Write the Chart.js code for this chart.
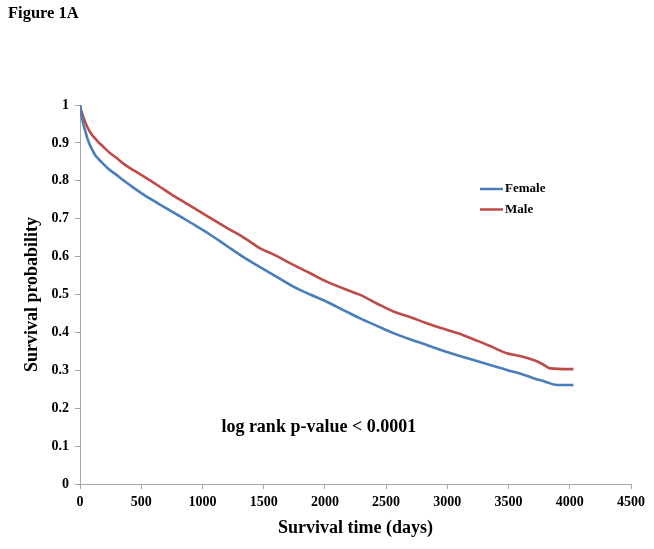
<!DOCTYPE html>
<html>
<head>
<meta charset="utf-8">
<script src="https://cdn.jsdelivr.net/npm/chart.js@4"></script>
<style>
html,body{margin:0;padding:0;background:#fff;}
#wrap{position:relative;width:654px;height:549px;}
canvas{display:block;}
</style>
</head>
<body>
<div id="wrap"><canvas id="c" width="654" height="549"></canvas></div>
<script>
const figureLabel = "Figure 1A";
const xTitle = "Survival time (days)";
const yTitle = "Survival probability";
const annotationText = "log rank p-value < 0.0001";
const seriesNames = ["Female", "Male"];

const femaleDays = [0, 5, 10, 20, 30, 41, 60, 80, 100, 123, 150, 180, 231, 300, 368, 436, 504, 640, 776, 912, 1049, 1200, 1348, 1471, 1600, 1743, 1880, 2015, 2150, 2288, 2420, 2560, 2700, 2832, 2941, 3080, 3213, 3350, 3486, 3600, 3704, 3800, 3880, 4030];
const femaleSurv = [1.0, 0.985, 0.975, 0.96, 0.946, 0.934, 0.912, 0.895, 0.882, 0.868, 0.858, 0.848, 0.832, 0.815, 0.798, 0.782, 0.767, 0.740, 0.714, 0.688, 0.661, 0.628, 0.596, 0.572, 0.548, 0.521, 0.500, 0.481, 0.459, 0.437, 0.418, 0.398, 0.381, 0.367, 0.354, 0.340, 0.327, 0.314, 0.301, 0.291, 0.279, 0.270, 0.262, 0.261];

const maleDays = [0, 5, 10, 20, 30, 41, 60, 80, 100, 123, 150, 180, 231, 300, 368, 436, 504, 640, 776, 912, 1049, 1200, 1348, 1471, 1593, 1743, 1880, 2015, 2150, 2288, 2420, 2560, 2700, 2832, 2941, 3105, 3213, 3350, 3486, 3600, 3704, 3780, 3840, 4030];
const maleSurv = [1.0, 0.992, 0.985, 0.975, 0.965, 0.956, 0.942, 0.930, 0.920, 0.912, 0.902, 0.893, 0.877, 0.860, 0.842, 0.828, 0.815, 0.787, 0.758, 0.732, 0.705, 0.676, 0.648, 0.622, 0.604, 0.578, 0.556, 0.534, 0.516, 0.499, 0.477, 0.455, 0.440, 0.424, 0.412, 0.396, 0.382, 0.364, 0.345, 0.337, 0.327, 0.316, 0.305, 0.303];

const xTicks = [0, 500, 1000, 1500, 2000, 2500, 3000, 3500, 4000, 4500];
const yTicks = [0, 0.1, 0.2, 0.3, 0.4, 0.5, 0.6, 0.7, 0.8, 0.9, 1];

const annotationPos = {x: 1950, y: 0.15};

const FONT = "'Liberation Serif', 'Times New Roman', serif";
const AXIS_COLOR = "#a6a6a6";

function toPoints(xs, ys){ return xs.map((x,i)=>({x:x, y:ys[i]})); }

const extras = {
  id: 'extras',
  afterDraw(chart){
    const ctx = chart.ctx;
    ctx.save();
    ctx.fillStyle = '#000';
    ctx.font = "bold 16.5px " + FONT;
    ctx.textAlign = 'left';
    ctx.textBaseline = 'middle';
    ctx.fillText(figureLabel, 8, 14);
    const xs = chart.scales.x, ys = chart.scales.y;
    ctx.font = "bold 18px " + FONT;
    ctx.textAlign = 'center';
    ctx.fillText(annotationText, xs.getPixelForValue(annotationPos.x), ys.getPixelForValue(annotationPos.y));
    ctx.font = "bold 13px " + FONT;
    ctx.textAlign = 'left';
    chart.data.datasets.forEach((ds, i) => {
      const y = 189 + i * 20.5;
      ctx.strokeStyle = ds.borderColor;
      ctx.lineWidth = 2.5;
      ctx.beginPath();
      ctx.moveTo(480, y);
      ctx.lineTo(503, y);
      ctx.stroke();
      ctx.fillStyle = '#000';
      ctx.fillText(ds.label, 505, y);
    });
    ctx.restore();
  }
};

new Chart(document.getElementById('c'), {
  type: 'line',
  data: {
    datasets: [
      {label: seriesNames[0], data: toPoints(femaleDays, femaleSurv), borderColor: '#4a7ebb', borderWidth: 2.6, pointRadius: 0, cubicInterpolationMode: 'monotone', fill: false},
      {label: seriesNames[1], data: toPoints(maleDays, maleSurv), borderColor: '#be4b48', borderWidth: 2.6, pointRadius: 0, cubicInterpolationMode: 'monotone', fill: false}
    ]
  },
  options: {
    responsive: false,
    animation: false,
    layout: {padding: {left: 0, top: 105, right: 23, bottom: 0}},
    plugins: {legend: {display: false}, tooltip: {enabled: false}},
    scales: {
      x: {
        type: 'linear',
        min: 0, max: 4500,
        afterBuildTicks(scale){ scale.ticks = xTicks.map(v=>({value:v})); },
        afterFit(scale){ scale.height = 65; },
        grid: {drawOnChartArea: false, drawTicks: true, tickLength: 5, color: AXIS_COLOR},
        border: {color: AXIS_COLOR, width: 1},
        ticks: {color: '#000', font: {family: FONT, size: 14, weight: 'bold'}, padding: 5, maxRotation: 0, autoSkip: false, callback: v => String(v)},
        title: {display: true, text: xTitle, color: '#000', font: {family: FONT, size: 18, weight: 'bold'}, padding: {top: 4, bottom: 10}}
      },
      y: {
        type: 'linear',
        min: 0, max: 1,
        afterBuildTicks(scale){ scale.ticks = yTicks.map(v=>({value:v})); },
        afterFit(scale){ scale.width = 80; },
        grid: {drawOnChartArea: false, drawTicks: true, tickLength: 5, color: AXIS_COLOR},
        border: {color: AXIS_COLOR, width: 1},
        ticks: {color: '#000', font: {family: FONT, size: 14, weight: 'bold'}, padding: 6, callback: v => String(Math.round(v*10)/10)},
        title: {display: true, text: yTitle, color: '#000', font: {family: FONT, size: 18, weight: 'bold'}, padding: {top: 22, bottom: 4}}
      }
    }
  },
  plugins: [extras]
});
</script>
</body>
</html>
